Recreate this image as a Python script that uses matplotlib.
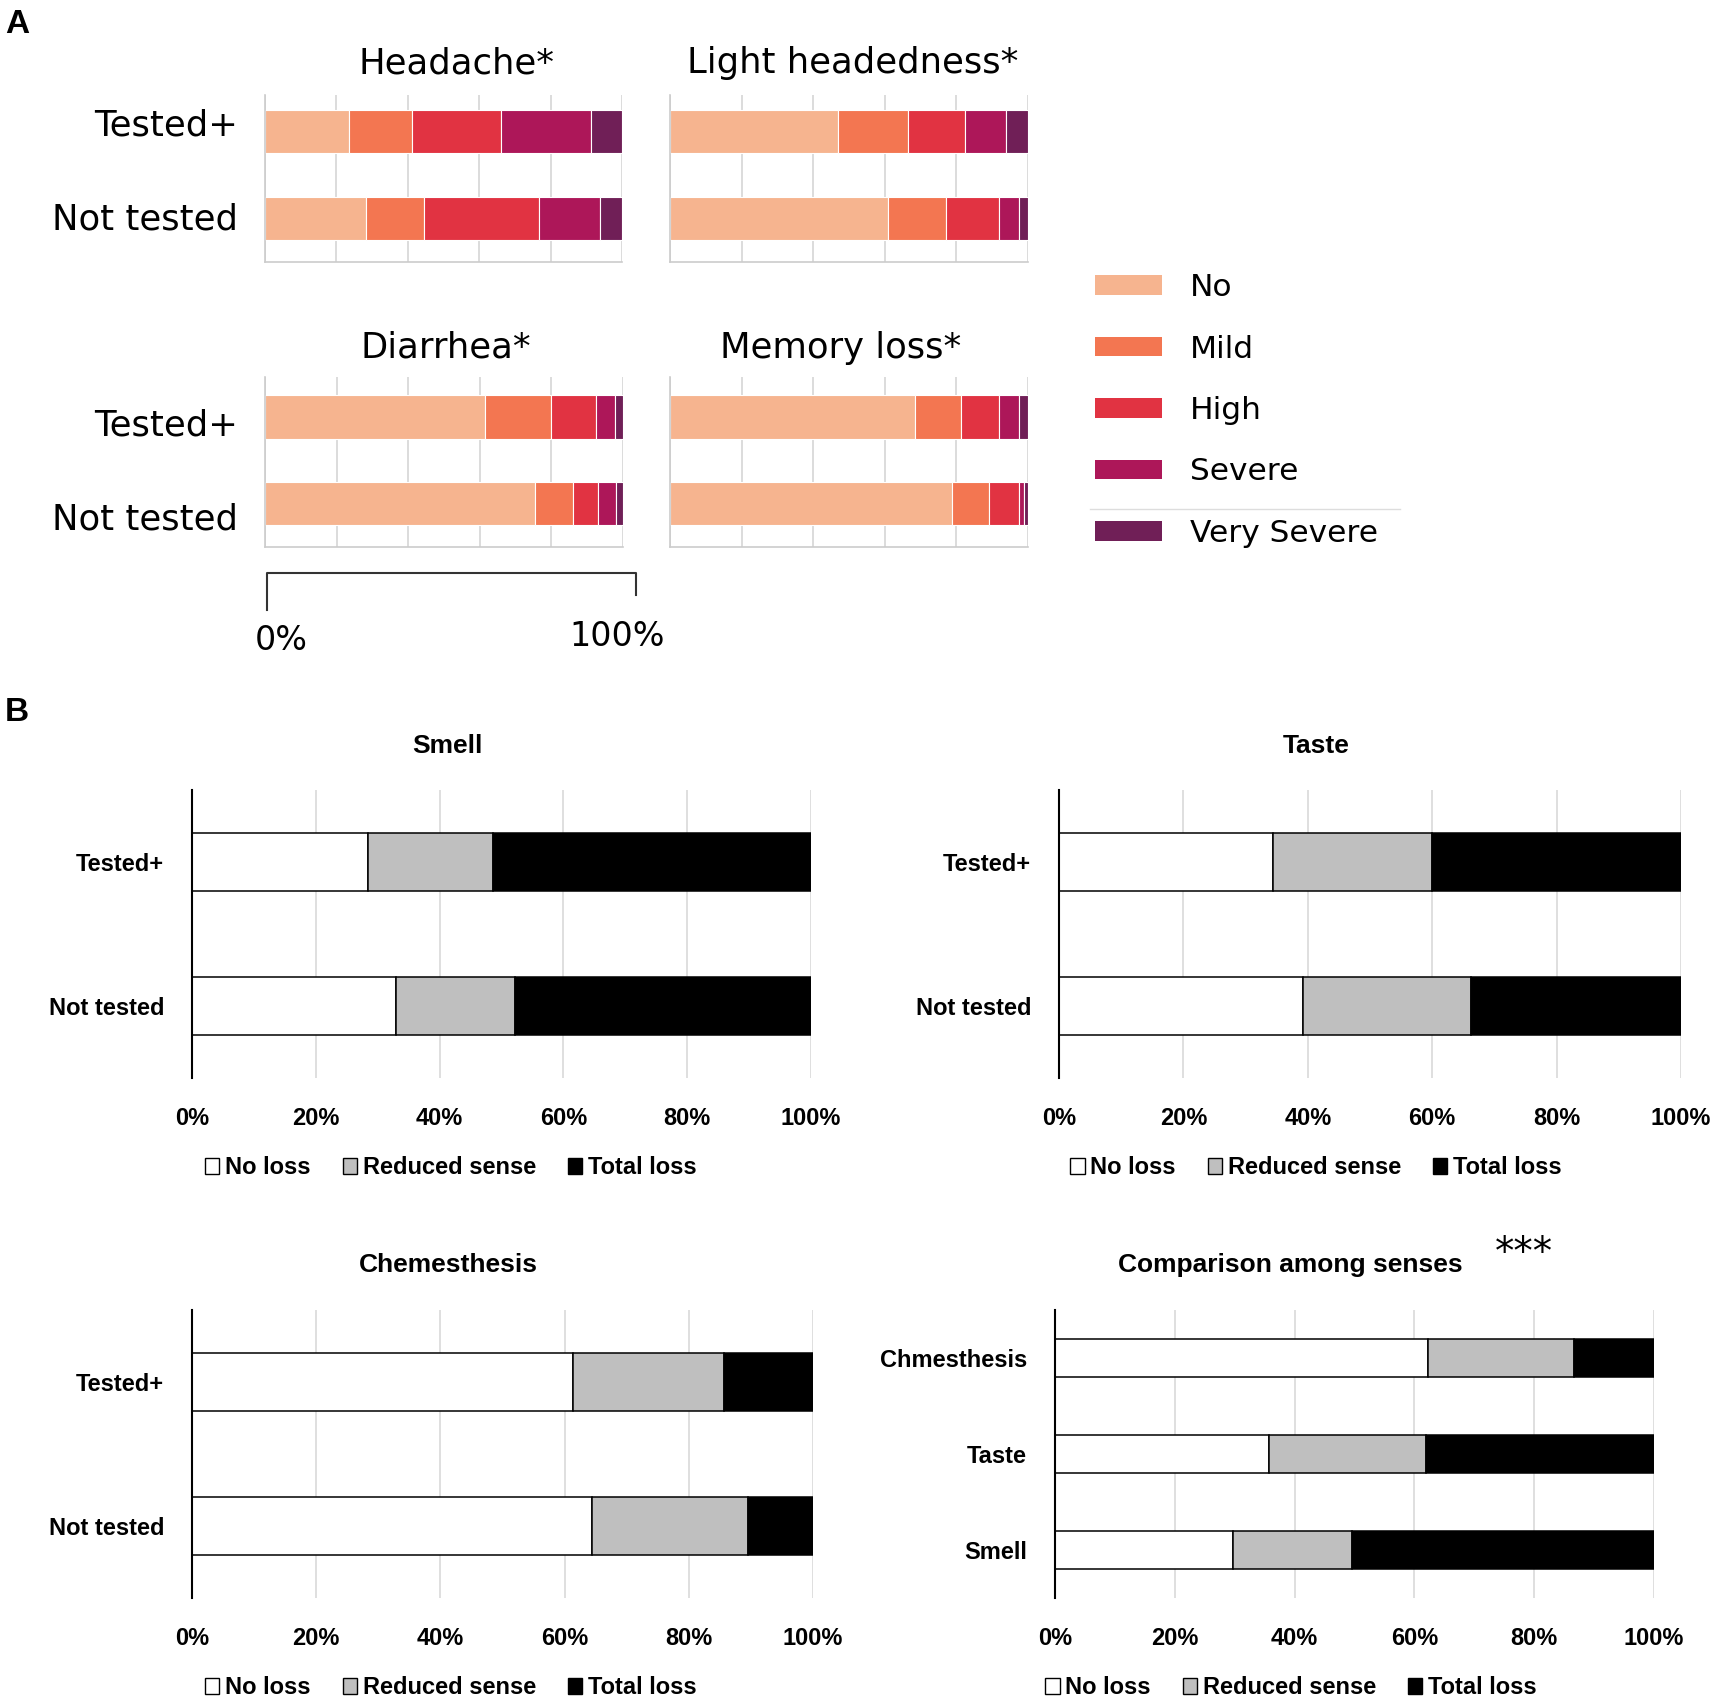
import numpy as np
import matplotlib
matplotlib.use('Agg')
import matplotlib.pyplot as plt
from matplotlib.patches import Patch
from matplotlib.lines import Line2D
from matplotlib.font_manager import FontProperties
from matplotlib.ticker import PercentFormatter

# ---- panel A data (percent of respondents per severity level) ----
groups_a = ['Tested+', 'Not tested']
severity = ['No', 'Mild', 'High', 'Severe', 'Very Severe']
headache = [[23.6, 17.6, 24.8, 25.2, 8.8], [28.4, 16.1, 32.2, 17.2, 6.1]]
light_head = [[46.9, 19.6, 16.0, 11.4, 6.1], [60.8, 16.3, 14.9, 5.5, 2.5]]
diarrhea = [[61.4, 18.6, 12.4, 5.4, 2.2], [75.5, 10.6, 7.0, 4.9, 2.0]]
memory_loss = [[68.4, 12.8, 10.6, 5.8, 2.4], [78.8, 10.2, 8.5, 1.3, 1.2]]
sev_colors = ['#f6b48f', '#f37651', '#e13342', '#ad1759', '#701f57']

# ---- panel B data ----
groups_b = ['Tested+', 'Not tested']
senses = ['Chmesthesis', 'Taste', 'Smell']
loss_labels = ['No loss', 'Reduced sense', 'Total loss']
smell = [[28.4, 20.3, 51.3], [33.0, 19.2, 47.8]]
taste = [[34.4, 25.6, 40.0], [39.3, 27.0, 33.7]]
chemesthesis = [[61.3, 24.4, 14.3], [64.4, 25.1, 10.5]]
comparison = [[62.3, 24.4, 13.3], [35.8, 26.1, 38.1], [29.7, 19.8, 50.5]]
loss_colors = ['white', '#bfbfbf', 'black']

W, H = 1713, 1705
fig = plt.figure(figsize=(W / 100, H / 100), dpi=100)


def fx(px):
    return px / W


def fy(py):
    return 1 - py / H


def box(x0, x1, y0, y1):
    return [fx(x0), fy(y1), (x1 - x0) / W, (y1 - y0) / H]


narrow = ['Liberation Sans Narrow', 'Liberation Sans', 'DejaVu Sans']
bfont = FontProperties(family=narrow, weight='bold', size=17)
bfont_tick = FontProperties(family=narrow, weight='bold', size=17)
tfont = FontProperties(family=narrow, weight='bold', size=19)


def draw_a(rect, rows, top):
    ax = fig.add_axes(rect)
    vals = np.array(rows) / 100
    y = np.arange(len(rows))
    left = np.zeros(len(rows))
    for j in range(vals.shape[1]):
        ax.barh(y, vals[:, j], left=left, height=0.5, color=sev_colors[j],
                edgecolor='white', linewidth=0.8, zorder=2)
        left += vals[:, j]
    ax.set_xlim(0, 1)
    ax.set_ylim(1.5, top)
    ax.set_xticks(np.arange(0, 1.01, 0.2))
    ax.set_xticklabels([])
    ax.set_yticks([])
    ax.grid(axis='x', color='#d6d6d6', lw=1.2, zorder=0)
    ax.set_axisbelow(True)
    for s in ['top', 'right']:
        ax.spines[s].set_visible(False)
    for s in ['left', 'bottom']:
        ax.spines[s].set_color('#cccccc')
        ax.spines[s].set_linewidth(1.2)
    ax.tick_params(length=0)
    return ax


draw_a(box(265, 622, 95, 262), headache, -0.42)
draw_a(box(670, 1028, 95, 262), light_head, -0.42)
draw_a(box(265, 623, 377, 547), diarrhea, -0.46)
draw_a(box(670, 1028, 377, 547), memory_loss, -0.46)

# row labels of panel A (placed like in the source figure)
for lab, yy in zip(groups_a * 2, [125, 220, 425, 520]):
    fig.text(fx(238), fy(yy), lab, fontsize=25.5, ha='right', va='center')

fig.text(fx(456), fy(73), 'Headache*', fontsize=25.5, ha='center', va='baseline')
fig.text(fx(853), fy(73), 'Light headedness*', fontsize=25.5, ha='center', va='baseline')
fig.text(fx(446), fy(358), 'Diarrhea*', fontsize=25.5, ha='center', va='baseline')
fig.text(fx(841), fy(358), 'Memory loss*', fontsize=25.5, ha='center', va='baseline')

# severity legend
sev_handles = [Patch(facecolor=c, edgecolor='none') for c in sev_colors]
fig.legend(sev_handles, severity, loc='upper left',
           bbox_to_anchor=(fx(1095), fy(273)), frameon=False, fontsize=22.5,
           handlelength=2.15, handleheight=0.58, handletextpad=0.9,
           labelspacing=1.04, borderpad=0, borderaxespad=0)
fig.add_artist(Line2D([fx(1090), fx(1400)], [fy(509), fy(509)],
                      color='#dddddd', lw=1))

# 0%-100% scale bracket
fig.add_artist(Line2D([fx(267), fx(267), fx(636), fx(636)],
                      [fy(610), fy(573), fy(573), fy(595)], color='#333333', lw=1.5))
fig.text(fx(281), fy(650), '0%', fontsize=24, ha='center', va='baseline')
fig.text(fx(617), fy(646), '100%', fontsize=24, ha='center', va='baseline')

fig.text(fx(5), fy(33), 'A', fontsize=24, fontweight='bold',
         family=['Liberation Sans', 'DejaVu Sans'], va='baseline')
fig.text(fx(5), fy(721), 'B', fontsize=24, fontweight='bold',
         family=['Liberation Sans', 'DejaVu Sans'], va='baseline')


def draw_b(rect, cats, rows):
    ax = fig.add_axes(rect)
    vals = np.array(rows) / 100
    y = np.arange(len(rows))
    left = np.zeros(len(rows))
    for j in range(vals.shape[1]):
        ax.barh(y, vals[:, j], left=left, height=0.4, color=loss_colors[j],
                edgecolor='black', linewidth=1.1, zorder=2)
        left += vals[:, j]
    ax.set_xlim(0, 1)
    ax.set_ylim(len(rows) - 0.5, -0.5)
    ax.set_xticks(np.arange(0, 1.01, 0.2))
    ax.xaxis.set_major_formatter(PercentFormatter(1.0, decimals=0))
    ax.grid(axis='x', color='#d9d9d9', lw=1.2, zorder=0)
    ax.set_axisbelow(True)
    for s in ['top', 'right', 'bottom']:
        ax.spines[s].set_visible(False)
    ax.spines['left'].set_linewidth(1.5)
    ax.tick_params(length=0)
    ax.tick_params(axis='x', pad=21)
    ax.tick_params(axis='y', pad=20)
    ax.set_yticks(y)
    ax.set_yticklabels(cats, fontproperties=bfont)
    for t in ax.get_xticklabels():
        t.set_fontproperties(bfont_tick)
    return ax


def loss_legend(cx, cy):
    handles = [Patch(facecolor=c, edgecolor='black', linewidth=1) for c in loss_colors]
    fig.legend(handles, loss_labels, loc='center', bbox_to_anchor=(fx(cx), fy(cy)),
               ncol=3, frameon=False, prop=bfont, handlelength=0.6,
               handleheight=0.68, handletextpad=0.25, columnspacing=1.35,
               borderpad=0, borderaxespad=0)


draw_b(box(192, 811, 790, 1078), groups_b, smell)
draw_b(box(1059, 1681, 790, 1078), groups_b, taste)
draw_b(box(192, 813, 1310, 1598), groups_b, chemesthesis)
draw_b(box(1055, 1654, 1310, 1598), senses, comparison)

fig.text(fx(447), fy(753), 'Smell', ha='center', va='baseline', fontproperties=tfont)
fig.text(fx(1316), fy(753), 'Taste', ha='center', va='baseline', fontproperties=tfont)
fig.text(fx(448), fy(1272), 'Chemesthesis', ha='center', va='baseline', fontproperties=tfont)
fig.text(fx(1290), fy(1272), 'Comparison among senses', ha='center', va='baseline',
         fontproperties=tfont)
fig.text(fx(1524), fy(1253), '***', ha='center', va='center', fontsize=28)

loss_legend(451, 1168)
loss_legend(1316, 1168)
loss_legend(451, 1688)
loss_legend(1291, 1688)

fig.savefig('out.png', dpi=100, facecolor='white')
